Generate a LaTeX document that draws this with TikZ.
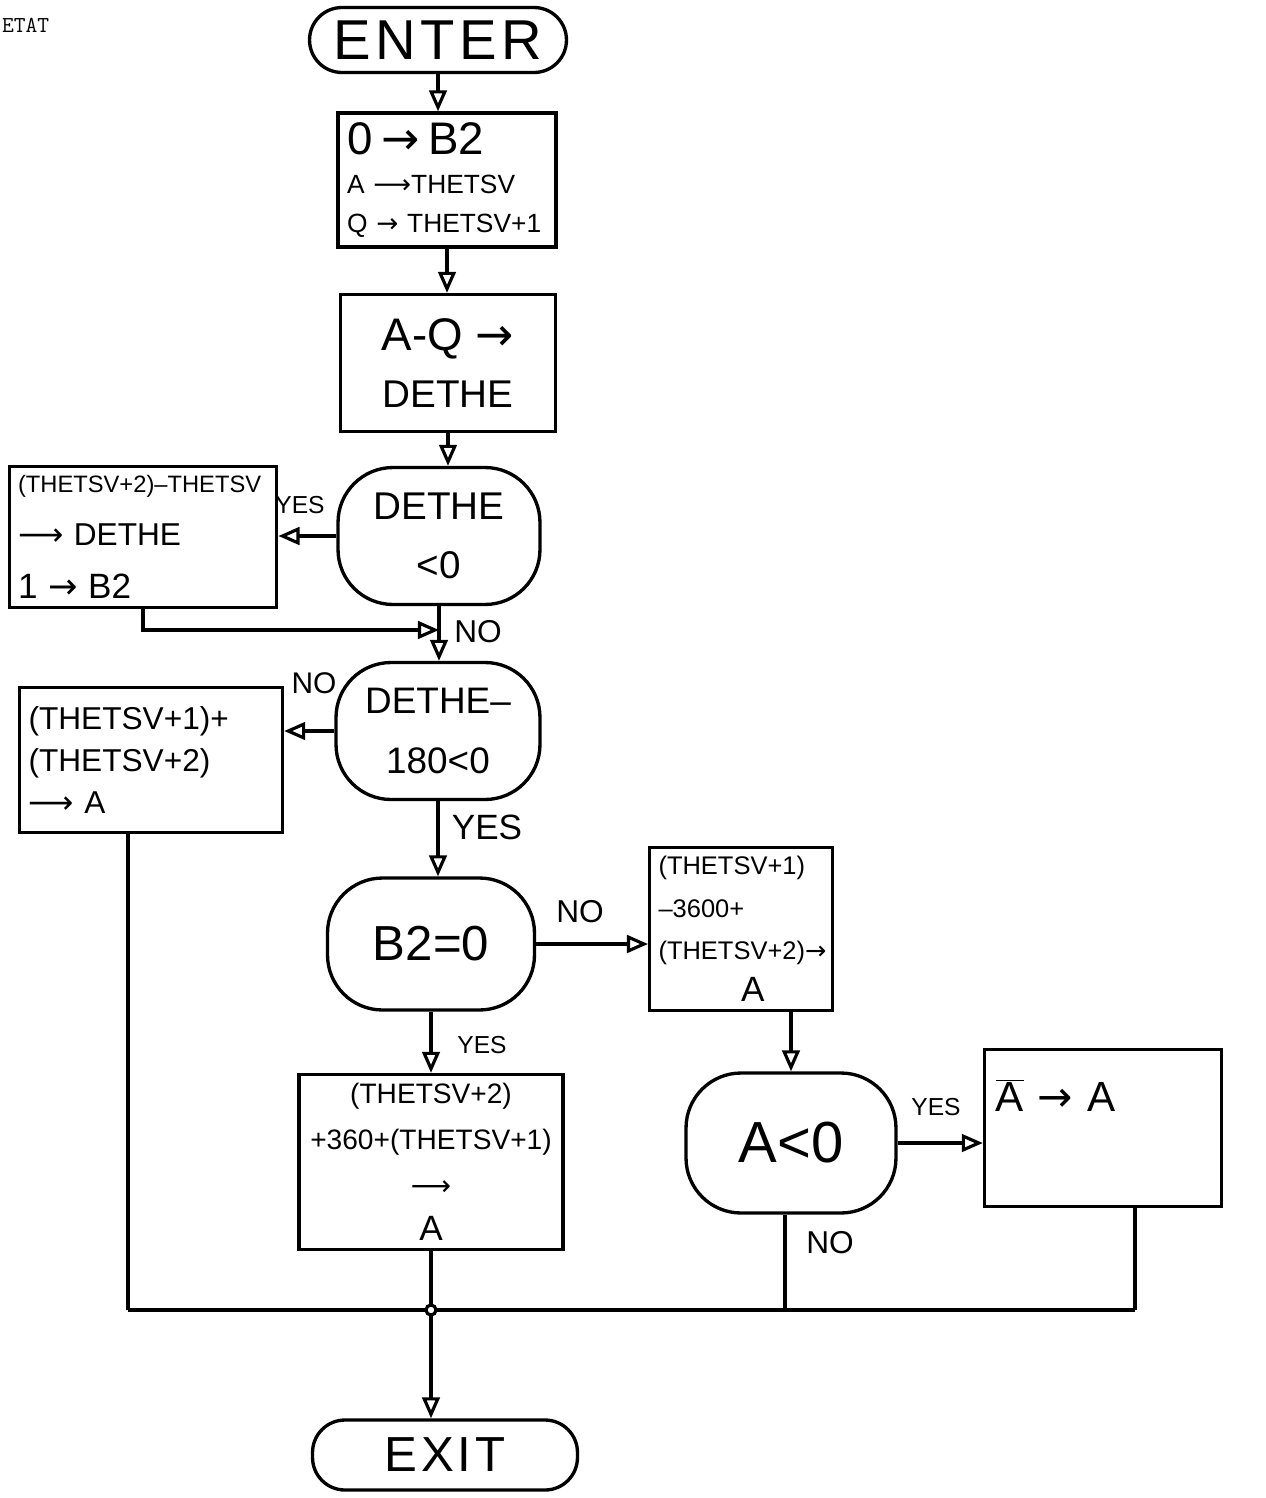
\documentclass[tikz,border=0pt]{standalone}
\usepackage{fontspec}
\setmainfont{Liberation Sans}
\newfontfamily\arrowfont{DejaVu Sans}
\usetikzlibrary{arrows.meta}
\newcommand\ra{{\arrowfont →}}
\newcommand\lra{{\arrowfont ⟶}}
\newcommand\fsz[1]{\fontsize{#1}{#1}\selectfont}
\begin{document}
\begin{tikzpicture}[x=0.02cm, y=-0.02cm,
  box/.style={draw, line width=1.9pt, inner sep=5pt},
  dec/.style={draw, line width=1.9pt, rounded corners=1.1cm, align=center},
  term/.style={draw, line width=1.9pt, rounded corners=0.65cm},
  flow/.style={line width=1.8pt, -{Triangle[open, length=12pt, width=10pt]}},
  conn/.style={line width=1.8pt},
  lbl/.style={inner sep=1pt}]
\useasboundingbox (0,0) rectangle (1265,1498);

\node[anchor=west, font=\ttfamily\fontsize{13}{15}\selectfont] (etat) at (-4,25) {ETAT};

\node[term, minimum width=5.14cm, minimum height=1.3cm, font=\fsz{32}\addfontfeature{LetterSpace=8}] (enter) at (438,40) {ENTER};

\node[box, minimum width=4.36cm, minimum height=2.68cm, align=left, text width=4.0cm,
      font=\fontsize{15}{22}\selectfont] (box1) at (447,180)
  {{\fsz{26}0 \ra\ B2}\\A \lra THETSV\\Q \ra\ THETSV+1};

\node[box, minimum width=4.3cm, minimum height=2.74cm, align=center,
      font=\fontsize{22}{32}\selectfont] (box2) at (448,363)
  {{\fsz{26}A-Q \ra}\\DETHE};

\node[dec, minimum width=4.04cm, minimum height=2.74cm,
      font=\fontsize{22}{34}\selectfont] (dec1) at (439,536) {DETHE\\<0};

\node[box, minimum width=5.34cm, minimum height=2.82cm, align=left, text width=5.0cm,
      font=\fontsize{18}{30}\selectfont] (box3) at (143,537)
  {{\fontsize{13.5}{16}\selectfont (THETSV+2)–THETSV}\\ \lra\ DETHE\\{\fsz{20}1 \ra\ B2}};

\node[dec, minimum width=4.08cm, minimum height=2.74cm,
      font=\fontsize{21}{34}\selectfont] (dec2) at (438,731) {DETHE–\\180<0};

\node[box, minimum width=5.26cm, minimum height=2.9cm, align=left, text width=4.9cm,
      font=\fontsize{18}{24}\selectfont] (box4) at (151,760)
  {(THETSV+1)+\\(THETSV+2)\\\lra\ A};

\node[dec, minimum width=4.14cm, minimum height=2.64cm,
      font=\fsz{28}] (dec3) at (431,944) {B2=0};

\node[box, minimum width=3.58cm, minimum height=3.16cm, align=left, text width=3.3cm,
      font=\fontsize{14.5}{24}\selectfont] (box5) at (741,929)
  {(THETSV+1)\\ –3600+\\(THETSV+2)\ra\\\hspace*{1.65cm}{\fsz{20}A}};

\node[box, minimum width=5.28cm, minimum height=2.94cm, align=center,
      font=\fontsize{16}{26}\selectfont] (box6) at (431,1162)
  {(THETSV+2)\\+360+(THETSV+1)\\\lra\\{\fsz{20}A}};

\node[dec, minimum width=4.2cm, minimum height=2.8cm,
      font=\fsz{33}] (dec4) at (791,1143) {A<0};

\node[box, minimum width=4.74cm, minimum height=3.14cm, align=left, text width=4.3cm,
      font=\fsz{24}] (box7) at (1103,1128)
  {$\overline{\mbox{A}}$ \ra\ A\rule[-1.3cm]{0pt}{1cm}};

\node[term, minimum width=5.3cm, minimum height=1.4cm, font=\fsz{28}\addfontfeature{LetterSpace=8}] (exit) at (445,1455) {EXIT};

% labels
\node[lbl, font=\fsz{14}] (y1) at (300,505) {YES};
\node[lbl, font=\fsz{18}] (n1) at (478,632) {NO};
\node[lbl, font=\fsz{17}] (n2) at (314,683) {NO};
\node[lbl, font=\fsz{20}] (y2) at (487,827) {YES};
\node[lbl, font=\fsz{18}] (n3) at (580,912) {NO};
\node[lbl, font=\fsz{14}] (y3) at (482,1045) {YES};
\node[lbl, font=\fsz{14}] (y4) at (936,1107) {YES};
\node[lbl, font=\fsz{18}] (n4) at (830,1243) {NO};

% junction coordinates
\coordinate (m1) at (439,630);
\coordinate (j1) at (128,1310);
\coordinate (j2) at (431,1310);
\coordinate (j3) at (785,1310);
\coordinate (j4) at (1135,1310);

% connectors
\draw[flow] (enter.south) -- (enter.south |- box1.north);
\draw[flow] (box1.south) -- (box1.south |- box2.north);
\draw[flow] (box2.south) -- (box2.south |- dec1.north);
\draw[flow] (dec1.west) -- (dec1.west -| box3.east);
\draw[flow] (dec1.south) -- (dec1.south |- dec2.north);
\draw[flow] (box3.south) |- (m1);
\draw[flow] (dec2.west) -- (dec2.west -| box4.east);
\draw[flow] (dec2.south) -- (dec2.south |- dec3.north);
\draw[flow] (dec3.east) -- (dec3.east -| box5.west);
\draw[flow] (dec3.south) -- (dec3.south |- box6.north);
\draw[flow] (dec4.north |- box5.south) -- (dec4.north);
\draw[flow] (dec4.east) -- (dec4.east -| box7.west);
\draw[conn] (box4.south -| j1) -- (j1);
\draw[conn] (dec4.south -| j3) -- (j3);
\draw[conn] (box7.south -| j4) -- (j4);
\draw[conn] (j1) -- (j4);
\draw[conn] (box6.south) -- (j2);
\draw[flow] (j2) -- (j2 |- exit.north);
\draw[conn, fill=white] (j2) circle (0.1cm);
\end{tikzpicture}
\end{document}
